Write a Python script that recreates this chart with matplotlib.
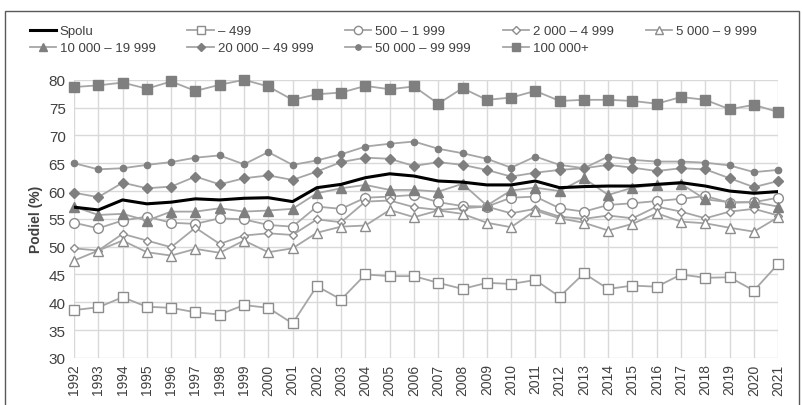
import numpy as np
import matplotlib.pyplot as plt
from matplotlib.patches import Rectangle

plt.rcParams['font.family'] = ['Liberation Sans Narrow', 'Liberation Sans', 'DejaVu Sans']

years = list(range(1992, 2022))

spolu = [57.1, 56.6, 58.4, 57.7, 58.0, 58.6, 58.4, 58.7, 58.8, 58.1,
         60.6, 61.2, 62.4, 63.1, 62.7, 61.8, 61.6, 61.1, 61.1, 61.8,
         60.6, 60.8, 60.9, 60.9, 61.2, 61.5, 60.9, 60.0, 59.6, 59.9]
s_499 = [38.6, 39.1, 40.9, 39.2, 39.0, 38.2, 37.8, 39.5, 39.0, 36.2,
         42.9, 40.5, 45.0, 44.7, 44.7, 43.5, 42.4, 43.5, 43.3, 44.0,
         41.0, 45.2, 42.4, 43.0, 42.8, 45.0, 44.4, 44.5, 42.1, 46.9]
s_500 = [54.3, 53.3, 54.7, 55.4, 54.3, 54.1, 55.1, 54.9, 53.9, 53.6,
         57.2, 56.8, 58.8, 59.0, 59.3, 58.0, 57.3, 57.2, 58.8, 59.0,
         56.9, 56.3, 57.5, 57.8, 58.2, 58.6, 59.1, 57.9, 58.0, 58.8]
s_2000 = [49.7, 49.3, 52.3, 51.1, 49.9, 53.4, 50.5, 52.0, 52.4, 52.1,
          54.9, 54.4, 58.1, 58.3, 57.1, 56.6, 56.9, 57.2, 56.0, 56.8,
          55.4, 55.0, 55.6, 55.1, 57.2, 56.3, 55.1, 56.3, 56.8, 55.6]
s_5000 = [47.5, 49.3, 51.1, 49.0, 48.4, 49.6, 48.9, 51.1, 49.0, 49.7,
          52.5, 53.6, 53.8, 56.6, 55.3, 56.5, 55.9, 54.3, 53.5, 56.5,
          55.1, 54.3, 52.9, 54.1, 56.0, 54.5, 54.2, 53.4, 52.7, 55.3]
s_10000 = [57.2, 55.7, 55.9, 54.7, 56.3, 56.3, 56.9, 56.3, 56.5, 56.8,
           59.6, 60.5, 61.1, 60.2, 60.2, 59.9, 61.3, 57.4, 60.1, 60.6,
           60.0, 62.3, 59.3, 60.6, 61.1, 61.3, 58.5, 58.0, 58.0, 57.2]
s_20000 = [59.7, 58.9, 61.5, 60.5, 60.8, 62.6, 61.2, 62.3, 62.8, 62.0,
           63.5, 65.2, 66.0, 65.8, 64.5, 65.2, 64.7, 63.8, 62.6, 63.3,
           63.8, 64.1, 64.7, 64.2, 63.6, 64.1, 63.9, 62.3, 60.7, 61.8]
s_50000 = [65.0, 63.9, 64.1, 64.7, 65.2, 66.0, 66.4, 64.8, 67.0, 64.7,
           65.5, 66.6, 68.0, 68.5, 68.9, 67.6, 66.8, 65.8, 64.2, 66.2,
           64.7, 64.1, 66.2, 65.6, 65.3, 65.3, 65.1, 64.6, 63.4, 63.8]
s_100000 = [78.7, 79.0, 79.5, 78.4, 79.7, 78.0, 79.1, 80.0, 78.8, 76.4,
            77.4, 77.7, 78.9, 78.3, 78.8, 75.7, 78.5, 76.4, 76.8, 78.0,
            76.2, 76.4, 76.4, 76.2, 75.7, 76.9, 76.4, 74.7, 75.5, 74.2]

LINE = '#a6a6a6'
MARK = '#7f7f7f'

fig = plt.figure(figsize=(8.02, 4.06), dpi=100)
fig.patches.append(Rectangle((0.006, -0.05), 0.990, 1.02, transform=fig.transFigure,
                             fill=False, edgecolor='#595959', linewidth=1.0))
ax = fig.add_axes([0.0923, 0.116, 0.878, 0.685])

# (label, values, marker, size, filled)
series = [
    ("– 499", s_499, 's', 6.5, False),
    ("500 – 1 999", s_500, 'o', 7, False),
    ("2 000 – 4 999", s_2000, 'D', 4.5, False),
    ("5 000 – 9 999", s_5000, '^', 7, False),
    ("10 000 – 19 999", s_10000, '^', 7, True),
    ("20 000 – 49 999", s_20000, 'D', 5, True),
    ("50 000 – 99 999", s_50000, 'o', 4.5, True),
    ("100 000+", s_100000, 's', 7.5, True),
]

handles = {}
for label, vals, mk, ms, filled in series:
    h, = ax.plot(years, vals, color=LINE, linewidth=1.3, marker=mk, markersize=ms,
                 markerfacecolor=MARK if filled else 'white',
                 markeredgecolor=MARK if filled else '#8c8c8c',
                 markeredgewidth=1.0, clip_on=False, label=label, zorder=3)
    handles[label] = h

h_spolu, = ax.plot(years, spolu, color='black', linewidth=2.2, label='Spolu', zorder=4)

ax.set_xlim(1992, 2021)
ax.set_ylim(30, 80)
ax.set_yticks(range(30, 81, 5))
ax.set_xticks(years)
ax.set_xticklabels([str(y) for y in years], rotation=90, fontsize=10, color='#404040')
ax.tick_params(axis='y', labelsize=11, colors='#404040', length=0, pad=6)
ax.tick_params(axis='x', length=0, pad=4)
ax.grid(True, color='#d9d9d9', linewidth=1.0)
ax.set_axisbelow(True)
for sp in ax.spines.values():
    sp.set_visible(False)
ax.set_ylabel("Podiel (%)", fontsize=10, fontweight='bold', color='#404040', labelpad=4)

order = ['Spolu', '10 000 – 19 999', '– 499', '20 000 – 49 999', '500 – 1 999',
         '50 000 – 99 999', '2 000 – 4 999', '100 000+', '5 000 – 9 999']
handles['Spolu'] = h_spolu
fig.legend([handles[k] for k in order], order, ncol=5, loc='upper left',
           bbox_to_anchor=(0.022, 0.965), frameon=False, fontsize=9.5,
           handlelength=2.0, handletextpad=0.3, columnspacing=2.4,
           labelspacing=0.35, labelcolor='#404040', markerscale=0.85)

fig.savefig('out.png', dpi=100)
